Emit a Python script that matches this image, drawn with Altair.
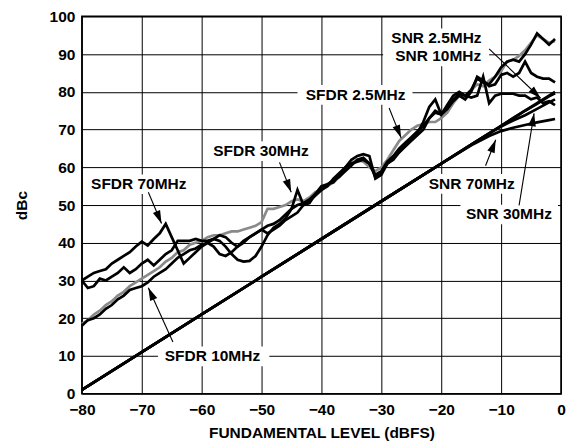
import math
import altair as alt
import pandas as pd

# ---------------- data ----------------
levels = [-80, -79, -78, -77, -76, -75, -74, -73, -72, -71,
          -70, -69, -68, -67, -66, -65, -64, -63, -62, -61,
          -60, -59, -58, -57, -56, -55, -54, -53, -52, -51,
          -50, -49, -48, -47, -46, -45, -44, -43, -42, -41,
          -40, -39, -38, -37, -36, -35, -34, -33, -32, -31,
          -30, -29, -28, -27, -26, -25, -24, -23, -22, -21,
          -20, -19, -18, -17, -16, -15, -14, -13, -12, -11,
          -10, -9, -8, -7, -6, -5, -4, -3, -2, -1]

sfdr_2_5 = [18.5, 19.5, 21, 22, 23.5, 24.5, 26, 27, 28.5, 29.5,
            30.5, 31.5, 32.5, 33.5, 35, 36, 37.5, 38, 39.5, 40,
            40.5, 41.5, 42, 42, 42.5, 43, 43, 43.5, 44, 44.5,
            45.5, 49, 49, 49.5, 50, 51, 51.5, 51, 52, 53.5,
            54, 55, 56, 57.5, 59.5, 61, 62, 61.5, 60, 59,
            60, 62, 64.5, 67, 68.5, 70, 71, 71.5, 72, 72,
            73, 74.5, 77, 79, 78.5, 80.5, 82, 81.5, 83, 84,
            85.5, 88, 88.5, 89.5, 91, 93, 95, 94, 93, 93.5]

sfdr_10 = [18, 19.5, 20, 21, 22.5, 23.5, 25, 26, 27.5, 28,
           28.5, 29.5, 31, 32, 33, 34.5, 36, 37, 38, 38.5,
           39.5, 40, 39, 37, 36.5, 37.5, 39, 40.5, 41.5, 42.5,
           43.5, 44.5, 45, 46, 47.5, 49, 50, 50.5, 51.5, 53,
           54, 55.5, 56.5, 57.5, 59, 60.5, 62, 62.5, 61, 58,
           59, 61.5, 63, 65, 66.5, 68, 69.5, 71, 73, 74.5,
           74, 75.5, 78, 79.5, 79, 80.5, 83.5, 82.5, 82, 84,
           86.5, 88, 88.5, 88, 90, 92.5, 95.5, 94, 92.5, 94]

sfdr_30 = [30, 28, 28.5, 30.5, 30, 31, 32, 33.5, 32, 33,
           34.5, 35.5, 34, 35.5, 37, 38, 40.5, 40.5, 40.5, 41,
           40.5, 40.5, 41, 40.5, 39, 37, 35.5, 35, 35.2, 36.5,
           39, 42, 44, 45, 46.5, 49, 54, 50, 50.5, 53,
           55, 55.5, 56, 58, 60, 62, 63, 63.5, 63, 57,
           58, 61, 62, 64, 65.5, 67, 68.5, 70, 73, 75,
           74, 75.5, 77.5, 79, 78, 80, 84, 83, 81.5, 82,
           84.5, 85, 84, 85, 88, 85, 84, 83.5, 83.5, 82.5]

sfdr_70 = [30, 31, 32, 32.5, 33, 34.5, 35.5, 36.5, 37.5, 39,
           40.3, 39.3, 41, 42.5, 45, 41.5, 38, 34.5, 36, 37.5,
           39, 40, 41, 42, 41.5, 40, 39, 40, 41.5, 42.5,
           43.5, 42.5, 43.5, 44.5, 46, 47, 48, 50, 51, 52.5,
           54, 55, 57, 58.5, 60, 61, 61.5, 62, 61, 57.5,
           58.5, 61, 62.5, 64, 66, 67.5, 69, 72, 76, 78,
           74, 76.5, 79, 80, 79, 78.5, 79, 84, 77, 79,
           79.5, 79.5, 79.5, 79, 79, 78, 78.5, 77, 77.5, 76.5]

snr_levels = [-80, -70, -60, -50, -40, -30, -20, -15, -12, -10, -8, -6, -4, -2, -1]
snr_2_5 = [1, 11, 21, 31, 41, 51, 61, 66, 69, 71, 73, 75, 77, 79, 80]
snr_10 = [1, 11, 21, 31, 41, 51, 61, 66, 69, 71, 73, 75, 76.8, 78.8, 79.6]
snr_30 = [1, 11, 21, 31, 41, 51, 61, 66, 69, 70.8, 72.4, 73.8, 75.5, 77.2, 78]
snr_70 = [1, 11, 21, 31, 41, 51, 61, 65.8, 68.3, 69.6, 70.5, 71.2, 71.9, 72.5, 72.8]

# annotation labels (data coordinates)
label_text = ["SFDR 70MHz", "SFDR 30MHz", "SFDR 2.5MHz", "SNR 2.5MHz", "SNR 10MHz",
              "SNR 70MHz", "SNR 30MHz", "SFDR 10MHz"]
label_x = [-70.5, -50.1, -34.3, -20.8, -20.5, -14.9, -8.7, -58.2]
label_y = [55.5, 64.3, 79.2, 94.2, 89.4, 55.6, 47.5, 9.9]

# white boxes behind labels
box_x1 = [-79.7, -59.4, -44.0, -29.7, -23.3, -16.8, -67.3]
box_x2 = [-61.3, -40.8, -24.8, -12.0, -6.5, -0.5, -48.7]
box_y1 = [52.9, 61.7, 76.6, 86.8, 53.0, 44.9, 7.3]
box_y2 = [58.1, 66.9, 81.8, 96.8, 58.2, 50.1, 12.5]

# arrows: start -> tip
arr_x1 = [-68.9, -47.0, -28.7, -64.8, -12.0, -12.6, -7.0]
arr_y1 = [53.4, 61.3, 75.7, 13.7, 91.4, 60.4, 49.9]
arr_x2 = [-66.7, -45.05, -26.7, -68.9, -3.4, -10.9, -4.5]
arr_y2 = [45.1, 53.4, 67.8, 28.1, 78.3, 67.3, 74.3]

# ---------------- layout ----------------
W, H = 480, 378
XD = [-80, 0]
YD = [0, 100]
px_x = W / (XD[1] - XD[0])
px_y = H / (YD[1] - YD[0])
FONT = "Liberation Sans"
FS = 15.5

series_names = ["SNR 2.5MHz", "SNR 10MHz", "SNR 30MHz", "SNR 70MHz",
                "SFDR 2.5MHz", "SFDR 10MHz", "SFDR 30MHz", "SFDR 70MHz"]
series_color = ["black", "black", "black", "black", "#8a8a8a", "black", "black", "black"]
series_width = [2.7, 2.7, 1.2, 1.2, 1.6, 1.0, 1.7, 2.6]

rows = []
for name, xs, ys in [("SNR 2.5MHz", snr_levels, snr_2_5), ("SNR 10MHz", snr_levels, snr_10),
                     ("SNR 30MHz", snr_levels, snr_30), ("SNR 70MHz", snr_levels, snr_70),
                     ("SFDR 2.5MHz", levels, sfdr_2_5), ("SFDR 10MHz", levels, sfdr_10),
                     ("SFDR 30MHz", levels, sfdr_30), ("SFDR 70MHz", levels, sfdr_70)]:
    for i, (a, b) in enumerate(zip(xs, ys)):
        rows.append({"series": name, "level": a, "dbc": b, "i": i})
curves = pd.DataFrame(rows)

labels = pd.DataFrame({"text": label_text, "x": label_x, "y": label_y})
boxes = pd.DataFrame({"x1": box_x1, "x2": box_x2, "y1": box_y1, "y2": box_y2})
angles = []
for a, b, c, d in zip(arr_x1, arr_y1, arr_x2, arr_y2):
    ang = math.degrees(math.atan2((c - a) * px_x, (d - b) * px_y)) % 360
    angles.append(ang)
arrows = pd.DataFrame({"x1": arr_x1, "y1": arr_y1, "x2": arr_x2, "y2": arr_y2, "angle": angles})

xscale = alt.Scale(domain=XD, nice=False, zero=False)
yscale = alt.Scale(domain=YD, nice=False, zero=False)
tick_vals_x = [-80, -70, -60, -50, -40, -30, -20, -10, 0]
tick_vals_y = [0, 10, 20, 30, 40, 50, 60, 70, 80, 90, 100]

xaxis = alt.Axis(values=tick_vals_x, title="FUNDAMENTAL LEVEL (dBFS)", grid=True,
                 ticks=False, domain=False, labelPadding=9, labelOverlap=False, labelFlush=False,
                 titleX=W / 2, titleY=39, titleBaseline="middle", titleAlign="center")
yaxis = alt.Axis(values=tick_vals_y, title="dBc", grid=True, ticks=False, domain=False,
                 labelPadding=7, labelOverlap=False, labelFlush=False,
                 titleX=-60, titleY=H / 2, titleAngle=270,
                 titleBaseline="middle", titleAlign="center")


def X(field):
    return alt.X(field, scale=xscale, axis=xaxis)


def Y(field):
    return alt.Y(field, scale=yscale, axis=yaxis)


box_layer = alt.Chart(boxes).mark_rect(color="white").encode(
    x=X("x1:Q"), x2="x2:Q", y=Y("y1:Q"), y2="y2:Q")

line_layer = alt.Chart(curves).mark_line(interpolate="linear").encode(
    x=X("level:Q"),
    y=Y("dbc:Q"),
    detail="series:N",
    order="i:Q",
    color=alt.Color("series:N", scale=alt.Scale(domain=series_names, range=series_color), legend=None),
    strokeWidth=alt.StrokeWidth("series:N", scale=alt.Scale(domain=series_names, range=series_width), legend=None),
)

arrow_layer = alt.Chart(arrows).mark_rule(color="black", strokeWidth=1.1).encode(
    x=X("x1:Q"), x2="x2:Q", y=Y("y1:Q"), y2="y2:Q")

head_layer = alt.Chart(arrows).mark_point(
    shape="M0,0L0.3,1L-0.3,1Z", filled=True, color="black", opacity=1, size=676, strokeWidth=0
).encode(
    x=X("x2:Q"),
    y=Y("y2:Q"),
    angle=alt.Angle("angle:Q", scale=None),
)

text_layer = alt.Chart(labels).mark_text(
    font=FONT, fontWeight="bold", fontSize=FS, color="black", align="center", baseline="middle"
).encode(
    x=X("x:Q"),
    y=Y("y:Q"),
    text="text:N",
)

chart = alt.layer(box_layer, line_layer, arrow_layer, head_layer, text_layer).properties(
    width=W, height=H,
    autosize=alt.AutoSizeParams(type="none"),
    padding={"left": 74, "top": 8, "right": 10, "bottom": 50},
    background="white",
).configure_view(
    stroke="black", strokeWidth=1.6
).configure_axis(
    gridColor="black", gridWidth=1, gridOpacity=1, labelOverlap=False,
    labelFont=FONT, labelFontWeight="bold", labelFontSize=FS, labelColor="black",
    titleFont=FONT, titleFontWeight="bold", titleFontSize=FS, titleColor="black",
)

chart.save("out.html", embed_options={"renderer": "svg", "actions": False})
